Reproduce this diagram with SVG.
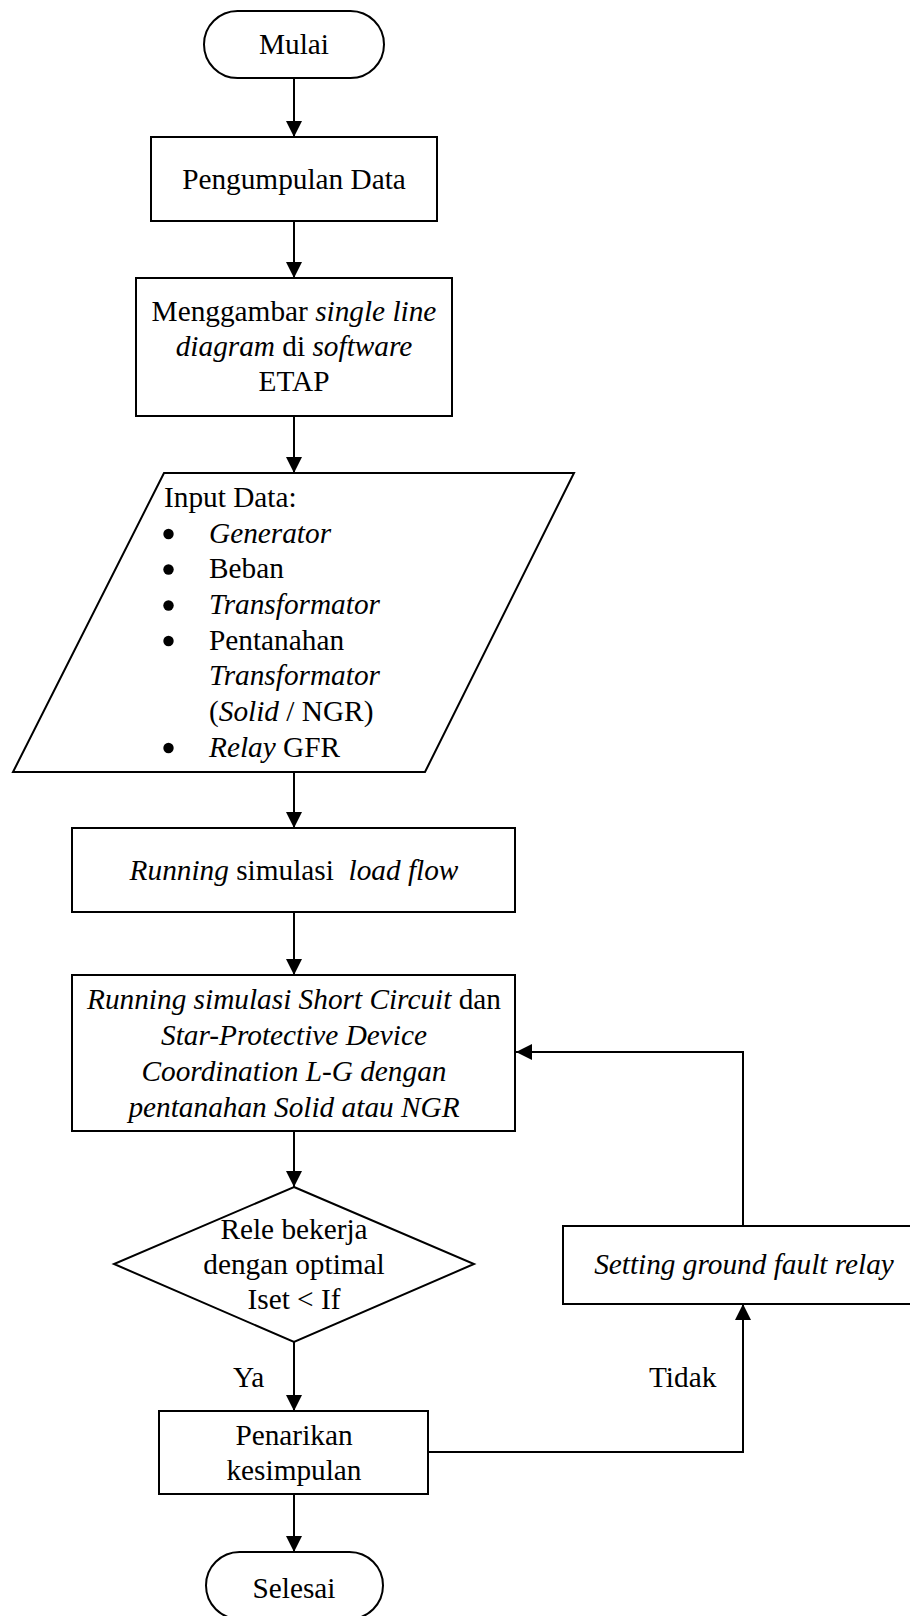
<svg xmlns="http://www.w3.org/2000/svg" width="910" height="1616" viewBox="0 0 910 1616">
<style>
.shape{fill:#ffffff;stroke:#000000;stroke-width:2}
.conn{fill:none;stroke:#000000;stroke-width:2}
.bullet{fill:#000000}
text{font-family:"Liberation Serif","Times New Roman",serif;font-size:29.3px;fill:#000000;white-space:pre}
.c{text-anchor:middle}
.i{font-style:italic}
</style>
<defs>
<marker id="arrow" markerUnits="userSpaceOnUse" markerWidth="16" markerHeight="16" refX="16" refY="8" orient="auto">
<path d="M0,0 L16,8 L0,16 Z" fill="#000000"/>
</marker>
</defs>
<rect width="910" height="1616" fill="#ffffff"/>
<g id="connectors">
<path class="conn" d="M294,78 L294,137" marker-end="url(#arrow)"/>
<path class="conn" d="M294,221 L294,278" marker-end="url(#arrow)"/>
<path class="conn" d="M294,416 L294,473" marker-end="url(#arrow)"/>
<path class="conn" d="M294,772 L294,828" marker-end="url(#arrow)"/>
<path class="conn" d="M294,912 L294,975" marker-end="url(#arrow)"/>
<path class="conn" d="M294,1131 L294,1187" marker-end="url(#arrow)"/>
<path class="conn" d="M294,1342 L294,1411" marker-end="url(#arrow)"/>
<path class="conn" d="M294,1494 L294,1552" marker-end="url(#arrow)"/>
<path class="conn" d="M428,1452 L743,1452 L743,1304" marker-end="url(#arrow)"/>
<path class="conn" d="M743,1226 L743,1052 L516,1052" marker-end="url(#arrow)"/>
<text x="233" y="1387">Ya</text>
<text x="649" y="1387">Tidak</text>
</g>
<g id="mulai">
<rect class="shape" x="204" y="11" width="180" height="67" rx="33.5" ry="33.5"/>
<text class="c" x="294" y="54">Mulai</text>
</g>
<g id="pengumpulan">
<rect class="shape" x="151" y="137" width="286" height="84"/>
<text class="c" x="294" y="189">Pengumpulan Data</text>
</g>
<g id="menggambar">
<rect class="shape" x="136" y="278" width="316" height="138"/>
<text class="c" x="294" y="321">Menggambar <tspan class="i">single line</tspan></text>
<text class="c" x="294" y="356"><tspan class="i">diagram</tspan> di <tspan class="i">software</tspan></text>
<text class="c" x="294" y="391">ETAP</text>
</g>
<g id="input">
<polygon class="shape" points="164,473 574,473 425,772 13,772"/>
<text x="164" y="507">Input Data:</text>
<circle class="bullet" cx="168.5" cy="534" r="5.2"/><text class="i" x="209" y="543">Generator</text>
<circle class="bullet" cx="168.5" cy="569.5" r="5.2"/><text x="209" y="578">Beban</text>
<circle class="bullet" cx="168.5" cy="605.5" r="5.2"/><text class="i" x="209" y="614">Transformator</text>
<circle class="bullet" cx="168.5" cy="641" r="5.2"/><text x="209" y="650">Pentanahan</text>
<text class="i" x="209" y="685">Transformator</text>
<text x="209" y="721">(<tspan class="i">Solid</tspan> / NGR)</text>
<circle class="bullet" cx="168.5" cy="748" r="5.2"/><text x="209" y="757"><tspan class="i">Relay</tspan> GFR</text>
</g>
<g id="loadflow">
<rect class="shape" x="72" y="828" width="443" height="84"/>
<text class="c" x="294" y="880"><tspan class="i">Running</tspan> simulasi  <tspan class="i">load flow</tspan></text>
</g>
<g id="shortcircuit">
<rect class="shape" x="72" y="975" width="443" height="156"/>
<text class="c" x="294" y="1009"><tspan class="i">Running simulasi Short Circuit</tspan> dan</text>
<text class="c i" x="294" y="1045">Star-Protective Device</text>
<text class="c i" x="294" y="1081">Coordination L-G dengan</text>
<text class="c i" x="294" y="1117">pentanahan Solid atau NGR</text>
</g>
<g id="decision">
<polygon class="shape" points="294,1187 474,1264 294,1342 114,1264"/>
<text class="c" x="294" y="1239">Rele bekerja</text>
<text class="c" x="294" y="1274">dengan optimal</text>
<text class="c" x="294" y="1309">Iset &lt; If</text>
</g>
<g id="setting">
<rect class="shape" x="563" y="1226" width="362" height="78"/>
<text class="c i" x="744" y="1274">Setting ground fault relay</text>
</g>
<g id="penarikan">
<rect class="shape" x="159" y="1411" width="269" height="83"/>
<text class="c" x="294" y="1445">Penarikan</text>
<text class="c" x="294" y="1480">kesimpulan</text>
</g>
<g id="selesai">
<rect class="shape" x="206" y="1552" width="177" height="67" rx="33.5" ry="33.5"/>
<text class="c" x="294" y="1598">Selesai</text>
</g>
</svg>
